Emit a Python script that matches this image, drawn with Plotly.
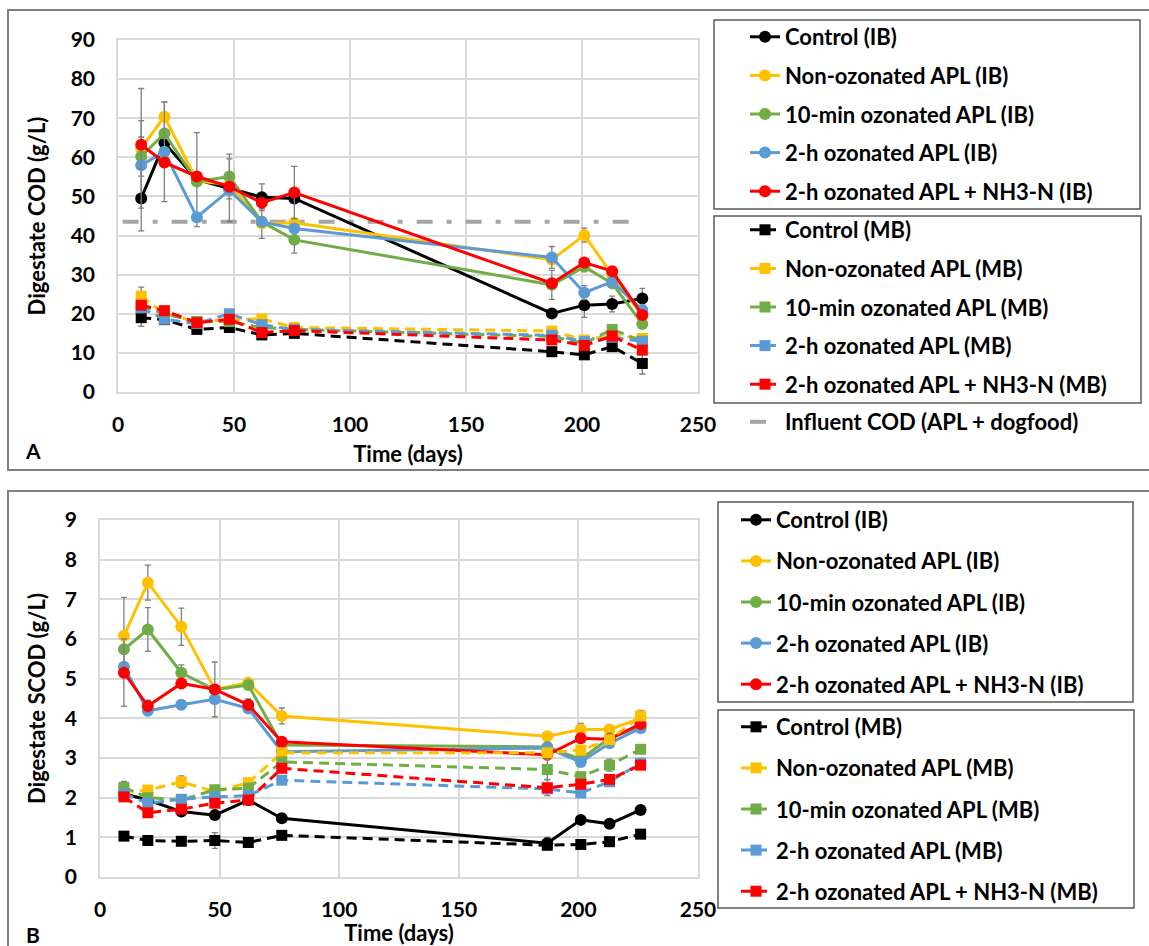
import plotly.graph_objects as go

W, H = 1149, 946

# ---------------- data ----------------
time_days = [10, 20, 34, 48, 62, 76, 187, 201, 213, 226]

series_names_ib = ["Control (IB)", "Non-ozonated APL (IB)", "10-min ozonated APL (IB)",
                   "2-h ozonated APL (IB)", "2-h ozonated APL + NH3-N (IB)"]
series_names_mb = ["Control (MB)", "Non-ozonated APL (MB)", "10-min ozonated APL (MB)",
                   "2-h ozonated APL (MB)", "2-h ozonated APL + NH3-N (MB)"]
series_colors = ["#000000", "#FFC000", "#70AD47", "#5B9BD5", "#FF0000"]

# Panel A: total COD (g/L)
cod_control_ib = [49.5, 63.7, 54.3, 52.0, 49.8, 49.5, 20.1, 22.2, 22.5, 23.9]
cod_nonoz_ib = [62.3, 70.4, 54.0, 53.0, 43.1, 43.3, 33.8, 40.1, 30.0, 19.5]
cod_10min_ib = [60.2, 66.1, 53.8, 55.1, 43.5, 38.9, 27.4, 32.0, 27.8, 17.4]
cod_2h_ib = [58.0, 61.4, 44.7, 51.6, 43.5, 41.8, 34.4, 25.4, 28.2, 21.0]
cod_2hnh3_ib = [63.2, 58.7, 55.1, 52.5, 48.4, 51.0, 27.8, 33.1, 30.9, 19.7]

cod_control_ib_err = [8.3, 0, 12.0, 0, 3.4, 0, 0, 3.1, 2.0, 2.6]
cod_nonoz_ib_err = [15.3, 3.8, 0, 0, 3.8, 0, 0, 1.8, 0, 0]
cod_10min_ib_err = [5.0, 0, 0, 5.7, 0, 3.4, 3.7, 0, 0, 0]
cod_2h_ib_err = [0, 12.7, 0, 8.0, 0, 0, 2.8, 1.8, 0, 0]
cod_2hnh3_ib_err = [6.2, 0, 0, 0, 0, 6.7, 0, 0, 0, 0]

cod_control_mb = [19.0, 18.5, 16.0, 16.5, 14.6, 15.0, 10.3, 9.5, 11.6, 7.3]
cod_nonoz_mb = [24.5, 20.0, 18.0, 18.5, 18.7, 16.5, 15.6, 13.3, 14.5, 13.7]
cod_10min_mb = [22.0, 20.0, 18.0, 18.0, 16.5, 16.0, 14.2, 12.5, 16.0, 13.0]
cod_2h_mb = [21.5, 18.6, 17.5, 20.0, 17.2, 16.0, 14.5, 12.9, 14.0, 12.9]
cod_2hnh3_mb = [22.2, 20.8, 17.7, 18.6, 15.2, 15.7, 13.3, 11.9, 14.3, 10.7]

cod_control_mb_err = [2.2, 0, 0, 0, 0, 0, 0, 0, 0, 2.7]
cod_nonoz_mb_err = [2.3, 0, 0, 0, 0.8, 0, 0, 0, 0, 0]
cod_10min_mb_err = [0, 0, 0, 0, 0, 0, 0, 0, 1.0, 0]
cod_2h_mb_err = [0, 0, 0, 0, 0, 0, 0, 0, 0, 0]
cod_2hnh3_mb_err = [0, 0, 0, 0, 0, 0, 0, 0, 0, 0]

influent_time = [2, 225]
influent_cod = [43.5, 43.5]

# Panel B: soluble COD (g/L)
scod_control_ib = [2.1, 1.94, 1.65, 1.56, 1.94, 1.48, 0.85, 1.44, 1.34, 1.69]
scod_nonoz_ib = [6.08, 7.42, 6.31, 4.73, 4.90, 4.06, 3.55, 3.72, 3.72, 4.0]
scod_10min_ib = [5.74, 6.24, 5.15, 4.72, 4.84, 3.33, 3.28, 2.97, 3.50, 3.79]
scod_2h_ib = [5.30, 4.19, 4.34, 4.48, 4.25, 3.16, 3.25, 2.90, 3.37, 3.75]
scod_2hnh3_ib = [5.15, 4.31, 4.88, 4.73, 4.34, 3.41, 3.08, 3.50, 3.47, 3.86]

scod_control_ib_err = [0, 0, 0, 0, 0, 0, 0.15, 0, 0, 0]
scod_nonoz_ib_err = [0.97, 0.44, 0.47, 0.69, 0, 0.2, 0, 0.15, 0.1, 0.2]
scod_10min_ib_err = [0, 0.55, 0.2, 0, 0, 0, 0, 0, 0, 0]
scod_2h_ib_err = [0, 0, 0, 0, 0, 0, 0, 0, 0, 0]
scod_2hnh3_ib_err = [0.85, 0.15, 0, 0, 0.15, 0, 0, 0, 0, 0]

scod_control_mb = [1.03, 0.92, 0.90, 0.92, 0.87, 1.05, 0.80, 0.82, 0.89, 1.08]
scod_nonoz_mb = [2.15, 2.19, 2.40, 2.15, 2.38, 3.13, 3.13, 3.20, 3.46, 4.06]
scod_10min_mb = [2.26, 2.00, 1.94, 2.20, 2.24, 2.90, 2.71, 2.53, 2.82, 3.22]
scod_2h_mb = [2.10, 1.86, 1.96, 2.02, 2.05, 2.44, 2.22, 2.12, 2.40, 2.87]
scod_2hnh3_mb = [2.02, 1.62, 1.71, 1.86, 1.94, 2.74, 2.25, 2.34, 2.46, 2.82]

scod_control_mb_err = [0.05, 0, 0, 0.2, 0, 0, 0, 0, 0, 0]
scod_nonoz_mb_err = [0, 0, 0.15, 0, 0, 0, 0, 0, 0, 0]
scod_10min_mb_err = [0.15, 0, 0, 0, 0, 0, 0.25, 0, 0.15, 0]
scod_2h_mb_err = [0, 0, 0, 0, 0, 0, 0, 0, 0.1, 0]
scod_2hnh3_mb_err = [0, 0, 0, 0, 0, 0, 0.2, 0, 0, 0]

x_ticks = [0, 50, 100, 150, 200, 250]
cod_ticks = [0, 10, 20, 30, 40, 50, 60, 70, 80, 90]
scod_ticks = [0, 1, 2, 3, 4, 5, 6, 7, 8, 9]

# ---------------- figure ----------------
FONT = "Lato"
ERR_COLOR = "#7F7F7F"

fig = go.Figure()


def add_series(x, y, err, name, color, mb, xa, ya, legend, group):
    fig.add_trace(go.Scatter(
        x=x, y=y, name=name, mode="lines+markers",
        xaxis=xa, yaxis=ya, legend=legend, legendgroup=group,
        line=dict(color=color, width=3, dash="10px,6px" if mb else "solid"),
        marker=dict(color=color, size=11 if mb else 12,
                    symbol="square" if mb else "circle"),
        error_y=dict(type="data", array=err, visible=True,
                     color=ERR_COLOR, thickness=1.3, width=3),
    ))


# Panel A
fig.add_trace(go.Scatter(
    x=influent_time, y=influent_cod, name="Influent COD (APL + dogfood)",
    mode="lines", xaxis="x", yaxis="y", legend="legend3",
    line=dict(color="#A5A5A5", width=4, dash="16px,14px,5px,14px"),
))
cod_ib = [cod_control_ib, cod_nonoz_ib, cod_10min_ib, cod_2h_ib, cod_2hnh3_ib]
cod_ib_err = [cod_control_ib_err, cod_nonoz_ib_err, cod_10min_ib_err, cod_2h_ib_err, cod_2hnh3_ib_err]
cod_mb = [cod_control_mb, cod_nonoz_mb, cod_10min_mb, cod_2h_mb, cod_2hnh3_mb]
cod_mb_err = [cod_control_mb_err, cod_nonoz_mb_err, cod_10min_mb_err, cod_2h_mb_err, cod_2hnh3_mb_err]
for i in range(5):
    add_series(time_days, cod_mb[i], cod_mb_err[i], series_names_mb[i], series_colors[i],
               True, "x", "y", "legend2", f"a_mb{i}")
for i in range(5):
    add_series(time_days, cod_ib[i], cod_ib_err[i], series_names_ib[i], series_colors[i],
               False, "x", "y", "legend", f"a_ib{i}")

# Panel B
scod_ib = [scod_control_ib, scod_nonoz_ib, scod_10min_ib, scod_2h_ib, scod_2hnh3_ib]
scod_ib_err = [scod_control_ib_err, scod_nonoz_ib_err, scod_10min_ib_err, scod_2h_ib_err, scod_2hnh3_ib_err]
scod_mb = [scod_control_mb, scod_nonoz_mb, scod_10min_mb, scod_2h_mb, scod_2hnh3_mb]
scod_mb_err = [scod_control_mb_err, scod_nonoz_mb_err, scod_10min_mb_err, scod_2h_mb_err, scod_2hnh3_mb_err]
for i in range(5):
    add_series(time_days, scod_ib[i], scod_ib_err[i], series_names_ib[i], series_colors[i],
               False, "x2", "y2", "legend4", f"b_ib{i}")
for i in range(5):
    add_series(time_days, scod_mb[i], scod_mb_err[i], series_names_mb[i], series_colors[i],
               True, "x2", "y2", "legend5", f"b_mb{i}")


def px(xp):
    return xp / W


def py(yp):
    return 1 - yp / H


tick_font = dict(family=FONT, size=21, color="#000000", weight="bold")
title_font = dict(family=FONT, size=22, color="#000000", weight="bold")
grid = "#D9D9D9"

xcommon = dict(range=[0, 250], tickvals=x_ticks, showgrid=True, gridcolor=grid, gridwidth=1.5,
               showline=True, linecolor=grid, linewidth=1.5, mirror=True, zeroline=False,
               ticks="outside", ticklen=13, tickcolor="rgba(0,0,0,0)", tickfont=tick_font,
               automargin=False)
ycommon = dict(showgrid=True, gridcolor=grid, gridwidth=1.5, showline=True, linecolor=grid,
               linewidth=1.5, mirror=True, zeroline=False, ticks="outside", ticklen=17,
               tickcolor="rgba(0,0,0,0)", tickfont=tick_font, automargin=False)

legend_font = dict(family=FONT, size=22, color="#000000", weight="bold")


def legend_at(x, y, gap):
    return dict(x=px(x), y=py(y), xanchor="left", yanchor="top", bgcolor="rgba(0,0,0,0)",
                borderwidth=0, font=legend_font, tracegroupgap=gap, itemwidth=30,
                orientation="v")


fig.update_layout(
    template="none",
    width=W, height=H, margin=dict(l=0, r=0, t=0, b=0, pad=0, autoexpand=False),
    paper_bgcolor="white", plot_bgcolor="white", showlegend=True,
    xaxis=dict(domain=[px(118), px(698)], anchor="y",
               title=dict(text="Time (days)", font=title_font, standoff=12), **xcommon),
    yaxis=dict(domain=[py(392), py(40)], anchor="x", range=[0, 90], tickvals=cod_ticks,
               title=dict(text="Digestate COD (g/L)", font=title_font, standoff=19), **ycommon),
    xaxis2=dict(domain=[px(100), px(698)], anchor="y2",
                title=dict(text="Time (days)", font=title_font, standoff=11), **xcommon),
    yaxis2=dict(domain=[py(877), py(520)], anchor="x2", range=[0, 9], tickvals=scod_ticks,
                title=dict(text="Digestate SCOD (g/L)", font=title_font, standoff=13), **ycommon),
    legend=legend_at(745, 16, 7),
    legend2=legend_at(745, 209, 7),
    legend3=legend_at(745, 401, 0),
    legend4=legend_at(736, 499, 9.5),
    legend5=legend_at(736, 706, 9.5),
    shapes=[
        # panel frames
        dict(type="rect", xref="paper", yref="paper", x0=px(8), x1=px(1152), y0=py(470), y1=py(10),
             line=dict(color="#7F7F7F", width=2)),
        dict(type="rect", xref="paper", yref="paper", x0=px(8), x1=px(1152), y0=py(950), y1=py(491),
             line=dict(color="#7F7F7F", width=2)),
        # legend boxes
        dict(type="rect", xref="paper", yref="paper", x0=px(714), x1=px(1140), y0=py(209), y1=py(20),
             line=dict(color="#595959", width=1.5)),
        dict(type="rect", xref="paper", yref="paper", x0=px(714), x1=px(1141), y0=py(403), y1=py(216),
             line=dict(color="#595959", width=1.5)),
        dict(type="rect", xref="paper", yref="paper", x0=px(718), x1=px(1133), y0=py(702), y1=py(502),
             line=dict(color="#595959", width=1.5)),
        dict(type="rect", xref="paper", yref="paper", x0=px(718), x1=px(1134), y0=py(908), y1=py(710),
             line=dict(color="#595959", width=1.5)),
    ],
    annotations=[
        dict(text="A", x=px(33), y=py(450), xref="paper", yref="paper", showarrow=False,
             xanchor="center", yanchor="middle",
             font=dict(family=FONT, size=21, color="#000000", weight="bold")),
        dict(text="B", x=px(33), y=py(934), xref="paper", yref="paper", showarrow=False,
             xanchor="center", yanchor="middle",
             font=dict(family=FONT, size=21, color="#000000", weight="bold")),
    ],
)

# remove the browser's default 8px body margin so the figure sits at the page origin
fig.write_html("out.html", config={"displayModeBar": False},
               post_script="document.body.style.margin='0';")
